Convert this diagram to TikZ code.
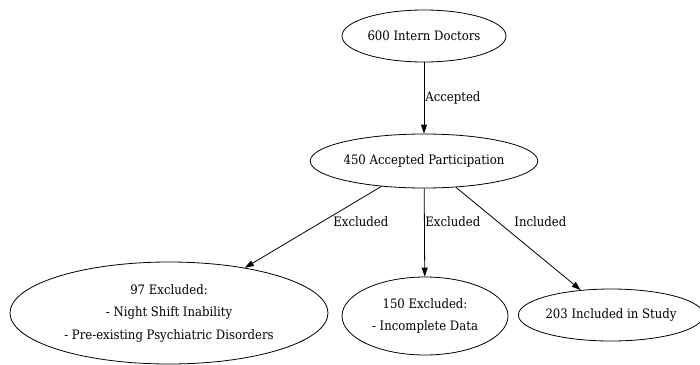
\documentclass[tikz,border=0pt]{standalone}
\usepackage{fontspec}
\setmainfont{DejaVu Serif Condensed}
\usetikzlibrary{shapes.geometric,arrows.meta}

\begin{document}
\begin{tikzpicture}[x=1pt, y=-1pt, line width=0.8pt,
        stage/.style={ellipse, draw, inner sep=0pt, align=center,
                font=\fontsize{13}{22.5}\selectfont},
        flow/.style={-{Triangle[length=9pt, width=6pt]}},
        tag/.style={anchor=west, inner sep=0pt, font=\fontsize{13}{15}\selectfont}]
        \useasboundingbox (0,0) rectangle (700,364);

        \node[stage, minimum width=164pt, minimum height=52pt] (doctors) at (424,36) {600 Intern Doctors};
        \node[stage, minimum width=224pt, minimum height=54pt] (accepted) at (424,161) {450 Accepted Participation};
        \node[stage, minimum width=318pt, minimum height=102pt] (shift) at (169,313)
                {97 Excluded:\\- Night Shift Inability\\- Pre-existing Psychiatric Disorders};
        \node[stage, minimum width=166pt, minimum height=78pt] (incomplete) at (425,316)
                {150 Excluded:\\- Incomplete Data};
        \node[stage, minimum width=176pt, minimum height=52pt] (study) at (611,315) {203 Included in Study};

        \draw[flow] (doctors) -- (accepted);
        \draw[flow] (accepted) -- (shift);
        \draw[flow] (accepted) -- (incomplete);
        \draw[flow] (accepted) -- (study);

        \node[tag] (accepttag) at (425,98) {Accepted};
        \node[tag] (shifttag) at (333,222) {Excluded};
        \node[tag] (incompletetag) at (425,222) {Excluded};
        \node[tag] (studytag) at (514,222) {Included};
    \end{tikzpicture}
\end{document}
